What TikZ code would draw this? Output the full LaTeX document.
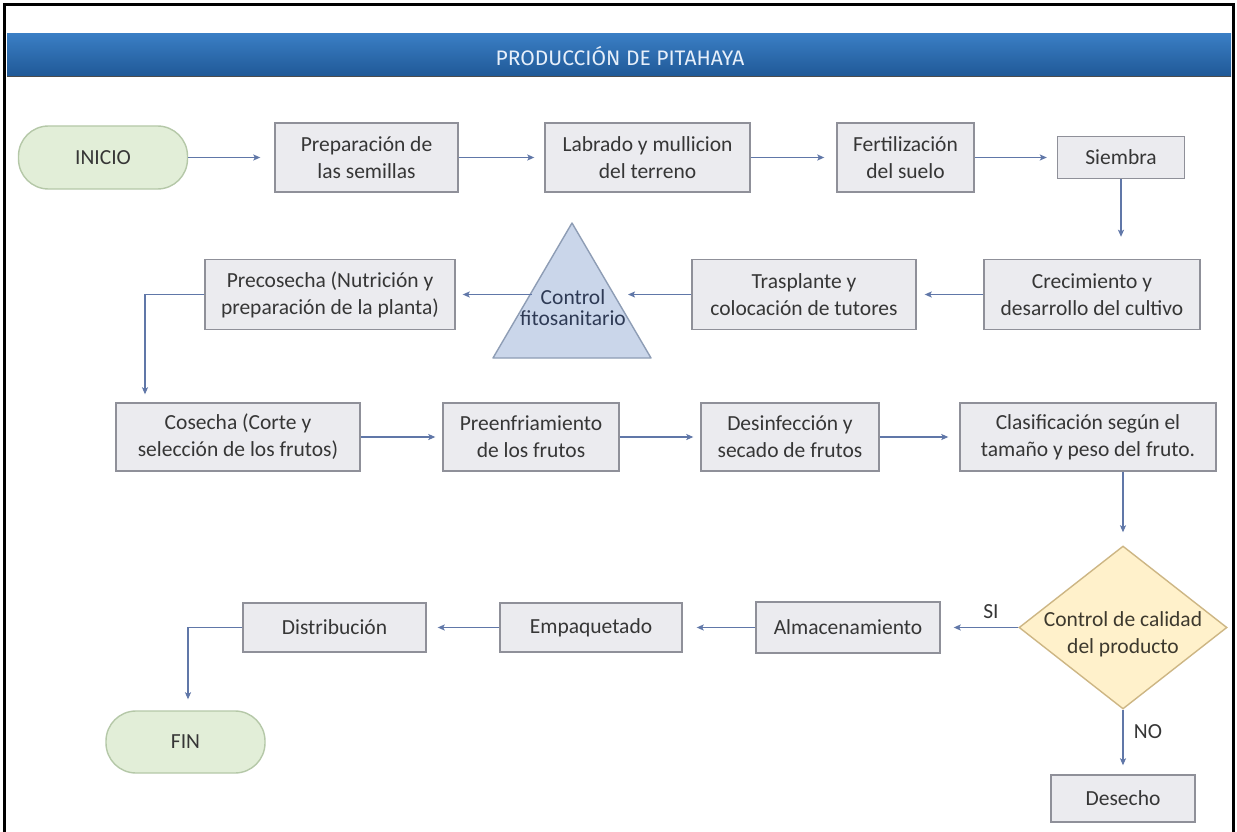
\documentclass[tikz,border=0pt]{standalone}
\usepackage{fontspec}
\setmainfont{Carlito}
\newfontfamily\titlefont{Fira Sans}
\usetikzlibrary{arrows.meta,shapes.geometric}
\definecolor{boxfill}{HTML}{EBEBEF}
\definecolor{boxdraw}{HTML}{8F9099}
\definecolor{txt}{HTML}{363636}
\definecolor{conncol}{HTML}{6077A8}
\definecolor{termfill}{HTML}{E2EED8}
\definecolor{termdraw}{HTML}{B5C8A8}
\definecolor{trifill}{HTML}{CAD6EA}
\definecolor{tridraw}{HTML}{8E9DB5}
\definecolor{tritext}{HTML}{2E3A55}
\definecolor{diafill}{HTML}{FFF1CB}
\definecolor{diadraw}{HTML}{CDB684}
\definecolor{diatext}{HTML}{3D392E}
\definecolor{bartop}{HTML}{3A7EC4}
\definecolor{barbot}{HTML}{1F5896}
\definecolor{titletext}{HTML}{E6EFFA}
\begin{document}
\begin{tikzpicture}[x=1pt,y=-1pt,
  every node/.style={font=\fontsize{21.5}{27}\selectfont, text=txt},
  proc/.style={draw=boxdraw, fill=boxfill, line width=1.4pt, inner sep=0pt, align=center},
  term/.style={draw=termdraw, fill=termfill, line width=1.4pt, rounded corners=30pt, inner sep=0pt},
  conn/.style={draw=conncol, line width=1.2pt, -{Stealth[length=7pt,width=6pt,inset=1.5pt]}, shorten >=12pt},
  lbl/.style={inner sep=0pt}
]
\useasboundingbox (0,0) rectangle (1237,832);
\fill[white] (0,0) rectangle (1237,832);
% frame
\draw[line width=3pt, black] (4,832) -- (4,5) -- (1233,5) -- (1233,832);
% title bar
\shade[top color=bartop, bottom color=barbot] (7,34) rectangle (1231,77);
\draw[line width=1pt, black!70] (7,77) -- (1231,77);
\node[font=\titlefont\fontsize{21}{24}\selectfont, text=titletext] (title) at (620,56) {PRODUCCIÓN DE PITAHAYA};

% row 1
\node[term, minimum width=169pt, minimum height=63pt] (inicio) at (103,157.5) {INICIO};
\node[proc, minimum width=183pt, minimum height=69pt] (prep) at (366.5,157.5) {Preparación de\\las semillas};
\node[proc, minimum width=205pt, minimum height=69pt] (lab) at (647.5,157.5) {Labrado y mullicion\\del terreno};
\node[proc, minimum width=137pt, minimum height=69pt] (fert) at (905.5,157.5) {Fertilización\\del suelo};
\node[proc, minimum width=127pt, minimum height=42pt] (siem) at (1121,157.5) {Siembra};

% row 2
\node[proc, minimum width=216pt, minimum height=70pt] (crec) at (1092,294.5) {Crecimiento y\\desarrollo del cultivo};
\node[proc, minimum width=224pt, minimum height=70pt] (tras) at (804,294.5) {Trasplante y\\colocación de tutores};
\coordinate (tA) at (572,223);
\coordinate (tB) at (493,358);
\coordinate (tC) at (651,358);
\filldraw[draw=tridraw, fill=trifill, line width=1.4pt, line join=round] (tA) -- (tB) -- (tC) -- cycle;
\node[align=center, inner sep=0pt, font=\fontsize{21.5}{21}\selectfont, text=tritext] (tri) at (573,308) {Control\\fitosanitario};
\coordinate (triR) at (613,294.5);
\coordinate (triL) at (532,294.5);
\node[proc, minimum width=250pt, minimum height=70pt] (prec) at (330,294.5) {Precosecha (Nutrición y\\preparación de la planta)};

% row 3
\node[proc, minimum width=244pt, minimum height=68pt] (cos) at (238,437) {Cosecha (Corte y\\selección de los frutos)};
\node[proc, minimum width=176pt, minimum height=68pt] (pre) at (531,437) {Preenfriamiento\\de los frutos};
\node[proc, minimum width=178pt, minimum height=68pt] (des) at (790,437) {Desinfección y\\secado de frutos};
\node[proc, minimum width=256pt, minimum height=68pt] (cla) at (1088,437) {Clasificación según el\\tamaño y peso del fruto.};

% row 4
\node[diamond, draw=diadraw, fill=diafill, line width=1.4pt, minimum width=208pt, minimum height=163pt, inner sep=0pt] (dia) at (1123,627.5) {};
\node[align=center, inner sep=0pt, text=diatext] (diat) at (1123,634) {Control de calidad\\del producto};
\node[proc, minimum width=184pt, minimum height=51pt] (alm) at (848,627.5) {Almacenamiento};
\node[proc, minimum width=182pt, minimum height=49pt] (emp) at (591,627.5) {Empaquetado};
\node[proc, minimum width=183pt, minimum height=49pt] (dist) at (334.5,627.5) {Distribución};
\node[term, minimum width=159pt, minimum height=62pt] (fin) at (185.5,742) {FIN};
\node[proc, minimum width=144pt, minimum height=47pt] (desc) at (1123,798.5) {Desecho};
\node[lbl] (si) at (991,612) {SI};
\node[lbl] (no) at (1148,732) {NO};
\coordinate (pc) at (145,294.5);
\coordinate (df) at (188,627.5);

% connectors
\draw[conn, shorten >=14pt] (inicio.east) -- (prep.west);
\draw[conn, shorten >=10pt] (prep.east) -- (lab.west);
\draw[conn, shorten >=12pt] (lab.east) -- (fert.west);
\draw[conn, shorten >=10pt] (fert.east) -- (siem.west);
\draw[conn, shorten >=22pt] (siem.south) -- (siem.south |- crec.north);
\draw[conn, shorten >=8pt] (crec.west) -- (tras.east);
\draw[conn, shorten >=15pt] (tras.west) -- (triR);
\draw[conn, shorten >=7pt] (triL) -- (prec.east);
\draw[conn, shorten >=8pt] (prec.west) -- (pc) -- (pc |- cos.north);
\draw[conn, shorten >=7pt] (cos.east) -- (pre.west);
\draw[conn, shorten >=7pt] (pre.east) -- (des.west);
\draw[conn, shorten >=11pt] (des.east) -- (cla.west);
\draw[conn, shorten >=13pt] (cla.south -| dia.north) -- (dia.north);
\draw[conn, shorten >=13pt] (dia.west) -- (alm.east);
\draw[conn, shorten >=14pt] (alm.west) -- (emp.east);
\draw[conn, shorten >=11pt] (emp.west) -- (dist.east);
\draw[conn, shorten >=11pt] (dist.west) -- (df) -- (df |- fin.north);
\draw[conn, shorten >=9pt] (dia.south) -- (desc.north);
\end{tikzpicture}
\end{document}
